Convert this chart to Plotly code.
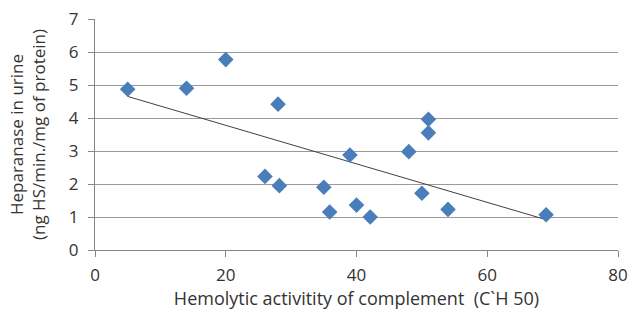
import numpy as np
import plotly.graph_objects as go

# Data
hemolytic_ch50 = [5, 14, 20, 28, 26, 28.2, 35, 35.9, 39, 40, 42.1, 48, 51, 51, 50, 54, 69]
heparanase = [4.87, 4.9, 5.77, 4.42, 2.23, 1.95, 1.90, 1.15, 2.88, 1.36, 1.0, 2.98, 3.96, 3.55, 1.72, 1.23, 1.07]
x_ticks = [0, 20, 40, 60, 80]
y_ticks = [0, 1, 2, 3, 4, 5, 6, 7]

# Linear trend line (least squares) over data span
slope, intercept = np.polyfit(hemolytic_ch50, heparanase, 1)
tx = [min(hemolytic_ch50), max(hemolytic_ch50)]
ty = [slope * v + intercept for v in tx]

font_family = "Open Sans, Liberation Sans, sans-serif"

fig = go.Figure()
fig.add_trace(go.Scatter(
    x=tx, y=ty, mode="lines",
    line=dict(color="#404040", width=1),
    hoverinfo="skip", showlegend=False,
))
fig.add_trace(go.Scatter(
    x=hemolytic_ch50, y=heparanase, mode="markers",
    marker=dict(symbol="diamond", size=12, color="#4A7EBB",
                line=dict(width=0)),
    showlegend=False,
))

fig.update_layout(
    width=630, height=310,
    margin=dict(l=95, r=12, t=19, b=60),
    paper_bgcolor="white", plot_bgcolor="white",
    font=dict(family=font_family, size=17, color="#333333"),
    xaxis=dict(
        range=[0, 80], tickvals=x_ticks, ticks="outside", ticklen=6,
        tickcolor="#868686", showline=True, linecolor="#868686", linewidth=1,
        showgrid=False, zeroline=False, automargin=False,
        ticklabelstandoff=4,
        title=dict(text="Hemolytic activitity of complement  (C`H 50)",
                   font=dict(size=18), standoff=8),
        tickfont=dict(size=17),
    ),
    yaxis=dict(
        range=[0, 7], tickvals=y_ticks, ticks="outside", ticklen=6,
        tickcolor="#868686", showline=True, linecolor="#868686", linewidth=1,
        showgrid=True, gridcolor="#9a9a9a", gridwidth=1, zeroline=False,
        automargin=False, ticklabelstandoff=6,
        title=dict(text="Heparanase in urine<br>(ng HS/min./mg of protein)",
                   font=dict(size=17), standoff=18),
        tickfont=dict(size=17),
    ),
)

fig.write_html("out.html", config={"displayModeBar": False},
               post_script="document.body.style.margin='0';")
